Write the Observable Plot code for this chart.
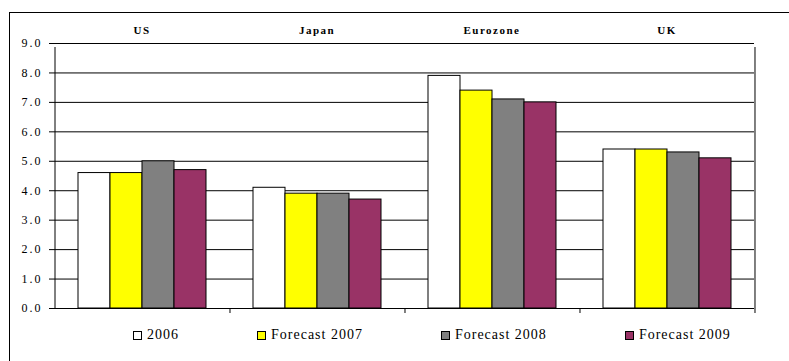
<!DOCTYPE html>
<html>
<head>
<meta charset="utf-8">
<script src="https://cdn.jsdelivr.net/npm/d3@7"></script>
<script src="https://cdn.jsdelivr.net/npm/@observablehq/plot@0.6"></script>
<style>
  html, body { margin: 0; padding: 0; background: #fff; }
  #wrap { position: relative; width: 789px; height: 361px; overflow: hidden; background: #fff; }
  #chart { position: absolute; left: 0; top: 0; }
  #border { position: absolute; left: 9px; top: 12px; width: 900px; height: 400px;
            border-left: 1px solid #000; border-top: 1px solid #000; pointer-events: none; }
  #legend { position: absolute; left: 133px; top: 327px; display: flex; gap: 78px; align-items: center;
            font-family: "Liberation Serif", Tinos, "DejaVu Serif", serif; font-size: 14px; letter-spacing: 1px; color: #000; }
  #legend .item { display: flex; align-items: center; white-space: nowrap; }
  #legend .sw { width: 7px; height: 7px; border: 1px solid #000; margin-right: 5px; }
  #chart svg text { font-family: "Liberation Serif", Tinos, "DejaVu Serif", serif; }
  #chart g[aria-label="y-axis tick label"] text { letter-spacing: 2px; }
  #chart g[aria-label="fx-axis tick label"] text { letter-spacing: 1.5px; }
</style>
</head>
<body>
<div id="wrap">
  <div id="chart"></div>
  <div id="border"></div>
  <div id="legend"></div>
</div>
<script>
const groups = ["US", "Japan", "Eurozone", "UK"];
const series = ["2006", "Forecast 2007", "Forecast 2008", "Forecast 2009"];
const values2006 = [4.6, 4.1, 7.9, 5.4];
const values2007 = [4.6, 3.9, 7.4, 5.4];
const values2008 = [5.0, 3.9, 7.1, 5.3];
const values2009 = [4.7, 3.7, 7.0, 5.1];
const colors = ["#FFFFFF", "#FFFF00", "#808080", "#993366"];
const yTicks = [0, 1, 2, 3, 4, 5, 6, 7, 8, 9];

const seriesValues = [values2006, values2007, values2008, values2009];
const data = [];
groups.forEach((g, gi) => {
  series.forEach((s, si) => data.push({group: g, series: s, value: seriesValues[si][gi]}));
});

const FONT = "'Liberation Serif', Tinos, 'DejaVu Serif', serif";
const W = 789, ML = 54, MR = 35, PAD_OUTER = 0.734;
const facetW = (W - ML - MR) / groups.length;
const step = facetW / (series.length + 2 * PAD_OUTER);
const edgeOffset = step / 2 + PAD_OUTER * step; // from outer bar centre to facet edge

const plot = Plot.plot({
  width: W,
  height: 318,
  marginLeft: ML,
  marginRight: MR,
  marginTop: 43,
  marginBottom: 10,
  style: {fontFamily: FONT, background: "transparent", color: "#000", overflow: "visible"},
  fx: {domain: groups, padding: 0, label: null},
  x: {domain: series, paddingInner: 0, paddingOuter: PAD_OUTER, axis: null},
  y: {domain: [0, 9], axis: null},
  color: {domain: series, range: colors},
  marks: [
    Plot.gridY(yTicks, {stroke: "#000", strokeOpacity: 1, strokeWidth: 1}),
    Plot.barY(data, {fx: "group", x: "series", y: "value", fill: "series", stroke: "#000", strokeWidth: 1}),
    // left border of plot area
    Plot.ruleX([groups[0]], {fx: d => d, x: () => series[0], y1: 0, y2: 9, dx: -edgeOffset, insetBottom: -4, stroke: "#000", strokeWidth: 1}),
    // right border of plot area
    Plot.ruleX([groups[groups.length - 1]], {fx: d => d, x: () => series[series.length - 1], y1: 0, y2: 9, dx: edgeOffset, insetBottom: -4, stroke: "#000", strokeWidth: 1}),
    // category separator ticks below the axis
    Plot.ruleX(groups, {fx: d => d, x: () => series[series.length - 1], y1: 0, y2: 0, dx: edgeOffset, insetBottom: -5, stroke: "#000", strokeWidth: 1}),
    Plot.axisY(yTicks, {anchor: "left", tickFormat: d3.format(".1f"), tickSize: 5, tickPadding: 7, fontSize: 12, stroke: "#000", strokeOpacity: 1, label: null}),
    Plot.axisFx({anchor: "top", tickSize: 0, tickPadding: 10, fontWeight: "bold", fontSize: 11, label: null})
  ]
});
document.getElementById("chart").appendChild(plot);

const legend = document.getElementById("legend");
series.forEach((s, i) => {
  const item = document.createElement("div");
  item.className = "item";
  const sw = document.createElement("span");
  sw.className = "sw";
  sw.style.background = colors[i];
  const t = document.createElement("span");
  t.textContent = s;
  item.appendChild(sw);
  item.appendChild(t);
  legend.appendChild(item);
});
</script>
</body>
</html>
